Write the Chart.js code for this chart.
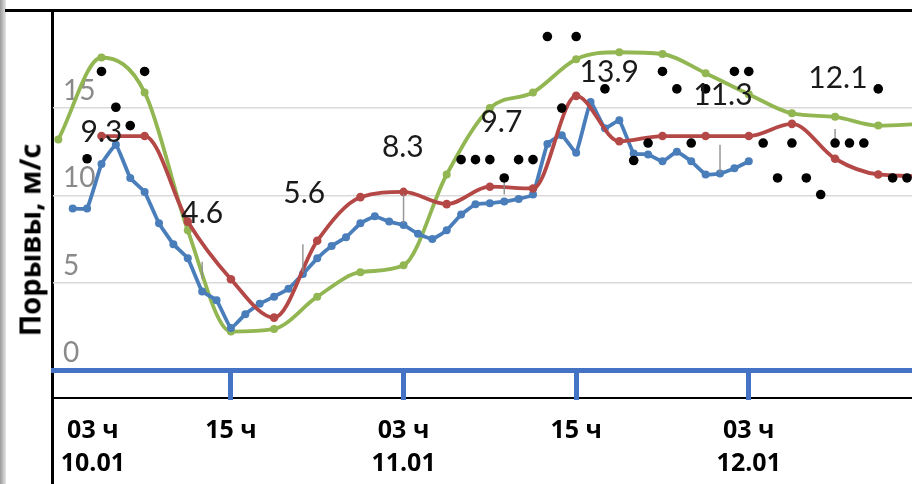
<!DOCTYPE html>
<html lang="ru">
<head>
    <meta charset="UTF-8">
    <title>Порывы ветра</title>
    <script src="https://cdn.jsdelivr.net/npm/chart.js"></script>
    <style>
        html, body { margin: 0; padding: 0; background: #fff; }
        #wrap { position: relative; width: 912px; height: 484px; overflow: hidden; }
        #wrap canvas { position: absolute; left: 0; top: 0; z-index: 2; }
        .frame { position: absolute; background: #000; z-index: 1; }
        #edge { position: absolute; left: 0; top: 0; width: 6px; height: 484px;
                background: linear-gradient(to right, #9a9a9a, #e6e6e6); }
        #ytitle { position: absolute; left: 29px; top: 240px; z-index: 3;
                  transform: translate(-50%, -50%) rotate(-90deg);
                  font: bold 29px "Open Sans", sans-serif; color: #000; white-space: nowrap; }
    </style>
</head>
<body>
    <div id="wrap">
        <div id="edge"></div>
        <div class="frame" style="left:5px; top:9px; width:907px; height:3px;"></div>
        <div class="frame" style="left:51px; top:9px; width:3px; height:475px;"></div>
        <div class="frame" style="left:54px; top:397px; width:858px; height:2px;"></div>
        <div id="ytitle">Порывы, м/с</div>
        <!-- canvas a bit larger than the frame, the wrap clips the spare margin -->
        <canvas id="gusts" width="919" height="500"></canvas>
    </div>

    <script>
        // hours counted from 10.01 00:00
        const greenHours = [3, 6, 9, 12, 15, 18, 21, 24, 27, 30, 33, 36, 39, 42, 45, 48, 51, 54, 57, 60, 63];
        const greenVals = [13.2, 17.9, 15.9, 8.0, 2.2, 2.35, 4.2, 5.6, 6.0, 11.2, 15.0, 15.9, 17.8, 18.2, 18.1, 17.0, 15.8, 14.7, 14.5, 14.0, 14.1];

        const redHours = [6, 9, 12, 15, 18, 21, 24, 27, 30, 33, 36, 39, 42, 45, 48, 51, 54, 57, 60, 63];
        const redVals = [13.4, 13.4, 8.5, 5.2, 3.0, 7.4, 9.9, 10.2, 9.5, 10.5, 10.4, 15.7, 13.1, 13.4, 13.4, 13.4, 14.1, 12.1, 11.2, 11.1];

        const blueHours = [4, 5, 6, 7, 8, 9, 10, 11, 12, 13, 14, 15, 16, 17, 18, 19, 20, 21, 22, 23, 24, 25, 26, 27,
                           28, 29, 30, 31, 32, 33, 34, 35, 36, 37, 38, 39, 40, 41, 42, 43, 44, 45, 46, 47, 48, 49, 50, 51];
        const blueVals = [9.25, 9.25, 11.8, 12.9, 11.0, 10.2, 8.4, 7.2, 6.4, 4.5,
                          4.0, 2.4, 3.2, 3.8, 4.2, 4.65, 5.5, 6.4, 7.1, 7.6,
                          8.4, 8.8, 8.5, 8.3, 7.8, 7.5, 8.0, 8.9, 9.5, 9.55,
                          9.65, 9.8, 10.05, 12.95, 13.45, 12.45, 15.35, 13.85, 14.3, 12.4,
                          12.35, 11.95, 12.5, 11.95, 11.2, 11.25, 11.55, 11.95];

        // observed gusts (black dots)
        const dotHours = [5, 6, 7, 8, 9, 31, 32, 33, 34, 35, 36, 37, 38, 39, 41, 43, 44, 45, 46, 47, 48,
                          50, 51, 52, 53, 54, 55, 56, 57, 58, 59, 60, 61, 62];
        const dotVals = [12.1, 17.1, 15.05, 14.0, 17.1, 12.05, 12.05, 12.05, 11.0, 12.05, 12.05, 19.1, 15.0, 19.1, 16.1,
                         12.0, 13.0, 17.1, 16.1, 13.0, 16.1, 17.1, 17.1, 13.0, 11.0, 13.0, 11.0, 10.05, 13.0, 13.0, 13.0,
                         16.1, 11.0, 11.0];

        // value labels written on the plot
        const noteTexts = ['9.3', '4.6', '5.6', '8.3', '9.7', '13.9', '11.3', '12.1'];
        const noteHours = [6.0, 13.0, 20.1, 26.95, 33.8, 41.3, 49.2, 57.2];
        const noteVals = [13.6, 9.0, 10.1, 12.75, 14.2, 17.05, 15.75, 16.7];

        // thin grey leaders under some labels
        const leaderHours = [13, 20, 27, 34, 49, 57];
        const leaderTop = [6.2, 7.2, 10.1, 11.0, 12.9, 13.8];
        const leaderBottom = [5.2, 5.6, 8.4, 10.05, 11.3, 12.9];

        const xLabelHours = [5.4, 15, 27, 39, 51];
        const xLabels = [['03 ч', '10.01'], ['15 ч', ''], ['03 ч', '11.01'], ['15 ч', ''], ['03 ч', '12.01']];
        const yTicks = [0, 5, 10, 15];

        const toPoints = (xs, ys) => xs.map((x, i) => ({ x: x, y: ys[i] }));

        function leaderPoints() {
            const pts = [];
            leaderHours.forEach((h, i) => {
                pts.push({ x: h, y: leaderTop[i] }, { x: h, y: leaderBottom[i] }, { x: h, y: null });
            });
            return pts;
        }

        const notesPlugin = {
            id: 'notes',
            afterDatasetsDraw(chart) {
                const { ctx, scales } = chart;
                ctx.save();
                ctx.font = '30px Lato, "Open Sans", sans-serif';
                ctx.fillStyle = '#1a1a1a';
                ctx.textAlign = 'center';
                ctx.textBaseline = 'middle';
                noteTexts.forEach((t, i) => {
                    ctx.fillText(t, scales.x.getPixelForValue(noteHours[i]), scales.y.getPixelForValue(noteVals[i]));
                });
                ctx.restore();
            }
        };

        const blue = 'rgb(74,126,187)';
        const red = 'rgb(180,72,70)';
        const green = 'rgb(145,182,82)';

        new Chart(document.getElementById('gusts'), {
            type: 'line',
            data: {
                datasets: [
                    {
                        label: 'obs',
                        data: toPoints(dotHours, dotVals),
                        showLine: false,
                        pointRadius: 4.8,
                        pointBackgroundColor: '#000',
                        pointBorderWidth: 0,
                        order: 0
                    },
                    {
                        label: 'leaders',
                        data: leaderPoints(),
                        borderColor: 'rgba(140,140,140,0.9)',
                        borderWidth: 1.5,
                        pointRadius: 0,
                        spanGaps: false,
                        order: 1
                    },
                    {
                        label: 'blue',
                        data: toPoints(blueHours, blueVals),
                        borderColor: blue,
                        backgroundColor: blue,
                        borderWidth: 3.8,
                        pointRadius: 4,
                        pointBorderWidth: 0,
                        tension: 0.1,
                        order: 3
                    },
                    {
                        label: 'red',
                        data: toPoints(redHours, redVals),
                        borderColor: red,
                        backgroundColor: red,
                        borderWidth: 3.8,
                        pointRadius: 4.3,
                        pointBorderWidth: 0,
                        cubicInterpolationMode: 'monotone',
                        order: 2
                    },
                    {
                        label: 'green',
                        data: toPoints(greenHours, greenVals),
                        borderColor: green,
                        backgroundColor: green,
                        borderWidth: 3.8,
                        pointRadius: 4,
                        pointBorderWidth: 0,
                        cubicInterpolationMode: 'monotone',
                        order: 4
                    }
                ]
            },
            options: {
                responsive: false,
                animation: false,
                layout: { padding: { left: 33, top: 9.5, right: 0, bottom: 5 } },
                plugins: {
                    legend: { display: false },
                    tooltip: { enabled: false }
                },
                scales: {
                    x: {
                        type: 'linear',
                        min: 2.63,
                        max: 62.5,
                        afterBuildTicks: s => { s.ticks = xLabelHours.map(v => ({ value: v })); },
                        border: { display: true, color: 'rgb(68,114,196)', width: 5 },
                        grid: {
                            drawOnChartArea: false,
                            drawTicks: true,
                            tickLength: 30,
                            tickWidth: 5,
                            tickColor: c => (c.index === 0 ? 'rgba(0,0,0,0)' : 'rgb(68,114,196)')
                        },
                        ticks: {
                            autoSkip: false,
                            maxRotation: 0,
                            padding: 15,
                            color: '#000',
                            font: { family: '"Open Sans", sans-serif', size: 25, weight: 'bold', lineHeight: 1.3 },
                            callback: (v, i) => xLabels[i]
                        }
                    },
                    y: {
                        min: 0,
                        max: 20.46,
                        afterBuildTicks: s => { s.ticks = yTicks.map(v => ({ value: v })); },
                        border: { display: false },
                        grid: { color: '#d9d9d9', lineWidth: 1.5, drawTicks: false },
                        ticks: {
                            mirror: true,
                            padding: 10,
                            labelOffset: -17,
                            color: '#8a8a8a',
                            font: { family: 'Lato, sans-serif', size: 28, lineHeight: 0.2 }
                        }
                    }
                }
            },
            plugins: [notesPlugin]
        });
    </script>
</body>
</html>
